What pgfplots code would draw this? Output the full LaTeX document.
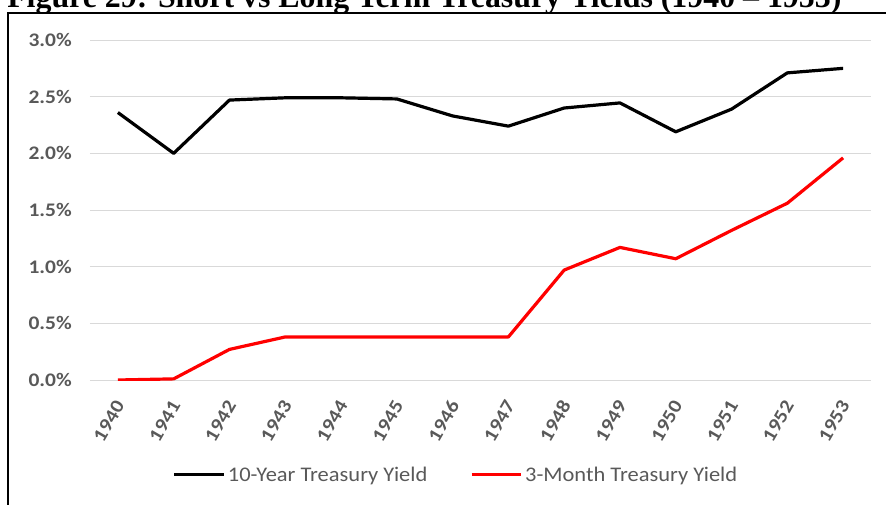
\documentclass[border=0pt]{standalone}
\usepackage{fontspec}
\setmainfont{Carlito}
\newfontfamily\ticksfont[FakeStretch=1.12]{Carlito}
\newfontfamily\legfont[FakeStretch=1.08]{Carlito}
\newfontfamily\titlefont{Liberation Serif}
\usepackage{pgfplots}
\pgfplotsset{compat=1.18}
\definecolor{gridgray}{HTML}{D9D9D9}
\definecolor{txtgray}{HTML}{595959}
\definecolor{tbred}{HTML}{FF0000}

\begin{document}
\begin{tikzpicture}
\begin{axis}[
    at={(67.5pt,-285pt)}, anchor=south west,
    scale only axis, width=585.75pt, height=255pt,
    xmin=1939.5, xmax=1953.5, ymin=0, ymax=3,
    xtick={1940,...,1953}, ytick={0,0.5,1,1.5,2,2.5,3},
    axis line style={draw=none},
    major tick length=0pt,
    ymajorgrids, grid style={gridgray, line width=0.75pt},
    /pgf/number format/assume math mode=true,
    /pgf/number format/1000 sep={},
    yticklabel={\pgfmathprintnumber[fixed,fixed zerofill,precision=1]{\tick}\%},
    yticklabel style={font=\ticksfont\bfseries\fontsize{14.4}{15}\selectfont,
        text=txtgray, anchor=east, inner sep=0pt, xshift=-13.5pt},
    xticklabel style={font=\ticksfont\bfseries\fontsize{14.4}{15}\selectfont,
        text=txtgray, xshift=1.5pt, yshift=-16.5pt, rotate=60, anchor=east, inner sep=0pt},
    legend style={at={(0.469,-0.279)}, anchor=center, draw=none, fill=none,
        legend columns=2, font=\legfont\fontsize{15.6}{16}\selectfont, text=txtgray,
        /tikz/every even column/.append style={column sep=30pt}},
    legend image code/.code={\draw[#1] (0pt,0pt) -- (37pt,0pt);},
]
\addplot[black, line width=2.4pt, line join=round] coordinates {
    (1940,2.36) (1941,2.00) (1942,2.47) (1943,2.49) (1944,2.49) (1945,2.48) (1946,2.33)
    (1947,2.24) (1948,2.40) (1949,2.445) (1950,2.19) (1951,2.39) (1952,2.71) (1953,2.75)};
\addplot[tbred, line width=2.4pt, line join=round] coordinates {
    (1940,0.00) (1941,0.01) (1942,0.27) (1943,0.38) (1944,0.38) (1945,0.38) (1946,0.38)
    (1947,0.38) (1948,0.97) (1949,1.17) (1950,1.07) (1951,1.32) (1952,1.56) (1953,1.96)};
\legend{10-Year Treasury Yield, 3-Month Treasury Yield}
\end{axis}
% frame and title, partly outside the visible page
\draw[line width=1.5pt] (6pt,-10.1pt) rectangle (700pt,-420pt);
\node[anchor=base west, inner sep=0pt, font=\titlefont\bfseries\fontsize{23.9}{24}\selectfont]
    at (5.25pt,-5.6pt) {Figure 29: Short vs Long Term Treasury Yields (1940 – 1953)};
\pgfresetboundingbox
\path[use as bounding box] (0pt,0pt) rectangle (664.5pt,-378pt);
\end{tikzpicture}
\end{document}
